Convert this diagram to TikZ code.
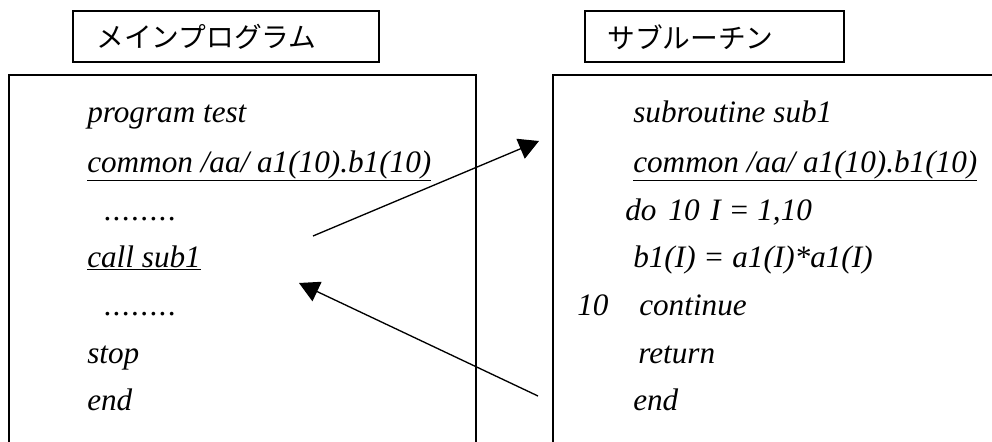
\documentclass[tikz,border=0pt]{standalone}
\usepackage{fontspec}
\setmainfont{Liberation Serif}
\newfontfamily\jpfont{Noto Sans CJK JP}
\usetikzlibrary{arrows.meta}
\newcommand\dotrow{.\kern1.05pt.\kern1.05pt.\kern1.05pt.\kern1.05pt.\kern1.05pt.\kern1.05pt.\kern1.05pt.}
\begin{document}
\begin{tikzpicture}[x=0.75pt,y=-0.75pt,
  frame/.style={draw, line width=1pt},
  code/.style={anchor=base west, inner sep=0pt, font=\fontsize{23.4}{28}\selectfont\itshape},
  jtitle/.style={anchor=west, inner sep=0pt, font=\jpfont\fontsize{20.8}{24}\selectfont},
  arr/.style={-{Triangle[length=15pt,width=16pt]}, line width=1pt}]
\useasboundingbox (0,0) rectangle (992,442);
\clip (0,0) rectangle (992,442);
\fill[white] (0,0) rectangle (992,442);

% title boxes
\draw[frame] (73,11) rectangle (379,62);
\node[jtitle] (tmain) at (96,37) {メインプログラム};
\draw[frame] (585,11) rectangle (844,62);
\node[jtitle] (tsub) at (607,37) {サブルーチン};

% main boxes (open at the bottom / right)
\draw[frame] (9,460) -- (9,75) -- (476,75) -- (476,460);
\draw[frame] (553,460) -- (553,75) -- (1000,75);

% left code
\node[code] (l1) at (87,123) {program test};
\node[code] (l2) at (87,172) {\underline{common /aa/ a1(10).b1(10)}};
\node[code] (l3) at (104,220) {\dotrow};
\node[code] (l4) at (87,267) {\underline{call sub1}};
\node[code] (l5) at (104,315) {\dotrow};
\node[code] (l6) at (87,363) {stop};
\node[code] (l7) at (87,410) {end};

% right code
\node[code] (r1) at (633,123) {subroutine sub1};
\node[code] (r2) at (633,172) {\underline{common /aa/ a1(10).b1(10)}};
\node[code] (r3) at (625,220) {do\kern9pt 10\kern8pt I = 1,10};
\node[code] (r4) at (633,267) {b1(I) = a1(I)*a1(I)};
\node[code] (r5a) at (577,315) {10};
\node[code] (r5b) at (639,315) {continue};
\node[code] (r6) at (638,363) {return};
\node[code] (r7) at (633,410) {end};

% arrows
\coordinate (c1) at (313,236);
\coordinate (s1) at (539,141);
\coordinate (c2) at (538,396);
\coordinate (m2) at (299,283);
\draw[arr] (c1) -- (s1);
\draw[arr] (c2) -- (m2);
\end{tikzpicture}
\end{document}
